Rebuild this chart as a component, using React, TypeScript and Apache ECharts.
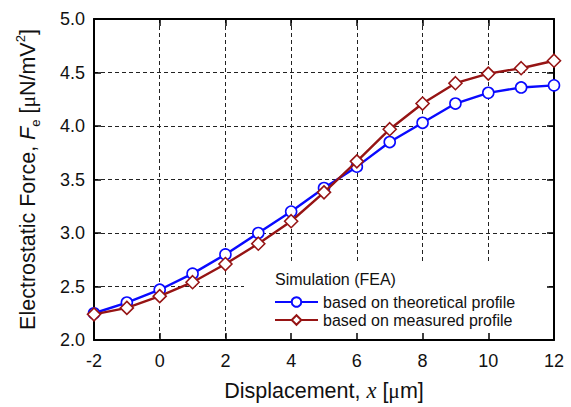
import React, { useEffect, useRef } from "react";
import * as echarts from "echarts";

const displacement = [-2, -1, 0, 1, 2, 3, 4, 5, 6, 7, 8, 9, 10, 11, 12];
const theoretical = [2.25, 2.35, 2.47, 2.62, 2.8, 3.0, 3.2, 3.42, 3.62, 3.85, 4.03, 4.21, 4.31, 4.36, 4.38];
const measured = [2.24, 2.3, 2.41, 2.54, 2.71, 2.9, 3.11, 3.38, 3.67, 3.97, 4.21, 4.4, 4.49, 4.54, 4.61];
const seriesNames = ["based on theoretical profile", "based on measured profile"];
const legendTitle = "Simulation (FEA)";
const xRange = { min: -2, max: 12, interval: 2 };
const yRange = { min: 2, max: 5, interval: 0.5 };

const SANS = "'Liberation Sans', Arial, sans-serif";
const SERIF = "'Liberation Serif', 'Times New Roman', serif";

export default function App() {
  const ref = useRef<HTMLDivElement>(null);
  useEffect(() => {
    if (!ref.current) return;
    const chart = echarts.init(ref.current, undefined, { renderer: "svg" });
    const axisLine = { show: true, onZero: false, lineStyle: { color: "#000", width: 2 } };
    const tick = { show: true, inside: true, length: 7, lineStyle: { color: "#000", width: 1.5 } };
    const grid = { show: true, lineStyle: { color: "#222", width: 1, type: [4, 3] as any } };
    const base = { type: "value" as const };
    const option: any = {
      animation: false,
      backgroundColor: "#fff",
      grid: { left: 94, top: 19, right: 17, bottom: 62 },
      title: {
        text: legendTitle,
        left: 275,
        top: 271,
        textStyle: { fontFamily: SANS, fontSize: 16, fontWeight: "normal", color: "#111" },
        padding: 0,
      },
      legend: {
        orient: "vertical",
        left: 274,
        top: 294,
        itemWidth: 43,
        itemHeight: 12,
        itemGap: 2,
        padding: 0,
        textStyle: { fontFamily: SANS, fontSize: 16, color: "#111" },
        data: seriesNames,
      },
      graphic: [
        {
          type: "rect",
          z: 1,
          shape: { x: 244, y: 262, width: 302, height: 82 },
          style: { fill: "#fff" },
        },
      ],
      xAxis: [
        {
          ...base, ...xRange, position: "bottom", z: 3,
          axisLine, axisTick: tick, splitLine: { show: false },
          axisLabel: { fontFamily: SANS, fontSize: 18, color: "#111", margin: 12 },
          name: "{a|Displacement, }{i|x}{a| [}{m|μ}{a|m]}",
          nameLocation: "middle",
          nameGap: 39,
          nameTextStyle: {
            rich: {
              a: { fontFamily: SANS, fontSize: 21.5, color: "#111" },
              i: { fontFamily: SERIF, fontStyle: "italic", fontSize: 22.5, color: "#111" },
              m: { fontFamily: SERIF, fontSize: 21.5, color: "#111" },
            },
          },
        },
        {
          ...base, ...xRange, position: "top", z: 0,
          axisLine, axisTick: tick, axisLabel: { show: false }, splitLine: grid,
        },
      ],
      yAxis: [
        {
          ...base, ...yRange, position: "left", z: 3,
          axisLine, axisTick: tick, splitLine: { show: false },
          axisLabel: {
            fontFamily: SANS, fontSize: 18, color: "#111", margin: 9,
            formatter: (v: number) => v.toFixed(1),
          },
          name: "{a|Electrostatic Force, }{i|F}{s|e}{a| [}{m|μ}{a|N/mV}{p|2}{a|]}",
          nameLocation: "middle",
          nameRotate: 90,
          nameGap: 52,
          nameTextStyle: {
            lineHeight: 28,
            rich: {
              a: { fontFamily: SANS, fontSize: 21.5, color: "#111", lineHeight: 28 },
              i: { fontFamily: SANS, fontStyle: "italic", fontSize: 21.5, color: "#111", lineHeight: 28 },
              s: { fontFamily: SANS, fontSize: 13, color: "#111", verticalAlign: "bottom", lineHeight: 28 },
              p: { fontFamily: SANS, fontSize: 13, color: "#111", verticalAlign: "top", lineHeight: 28 },
              m: { fontFamily: SERIF, fontSize: 21.5, color: "#111", lineHeight: 28 },
            },
          },
        },
        {
          ...base, ...yRange, position: "right", z: 0,
          axisLine, axisTick: tick, axisLabel: { show: false }, splitLine: grid,
        },
      ],
      series: [
        {
          name: seriesNames[0],
          type: "line",
          z: 3,
          data: displacement.map((x, i) => [x, theoretical[i]]),
          symbol: "circle",
          symbolSize: 11,
          itemStyle: { color: "#fff", borderColor: "#0a0aff", borderWidth: 1.6 },
          lineStyle: { color: "#0a0aff", width: 2.4 },
        },
        {
          name: seriesNames[1],
          type: "line",
          z: 4,
          data: displacement.map((x, i) => [x, measured[i]]),
          symbol: "diamond",
          symbolSize: 13,
          itemStyle: { color: "#fff", borderColor: "#961414", borderWidth: 1.6 },
          lineStyle: { color: "#961414", width: 2.4 },
        },
      ],
    };
    chart.setOption(option);
    return () => chart.dispose();
  }, []);
  return (
    <div
      ref={ref}
      style={{ position: "absolute", left: 0, top: 0, width: 571, height: 407 }}
    />
  );
}
